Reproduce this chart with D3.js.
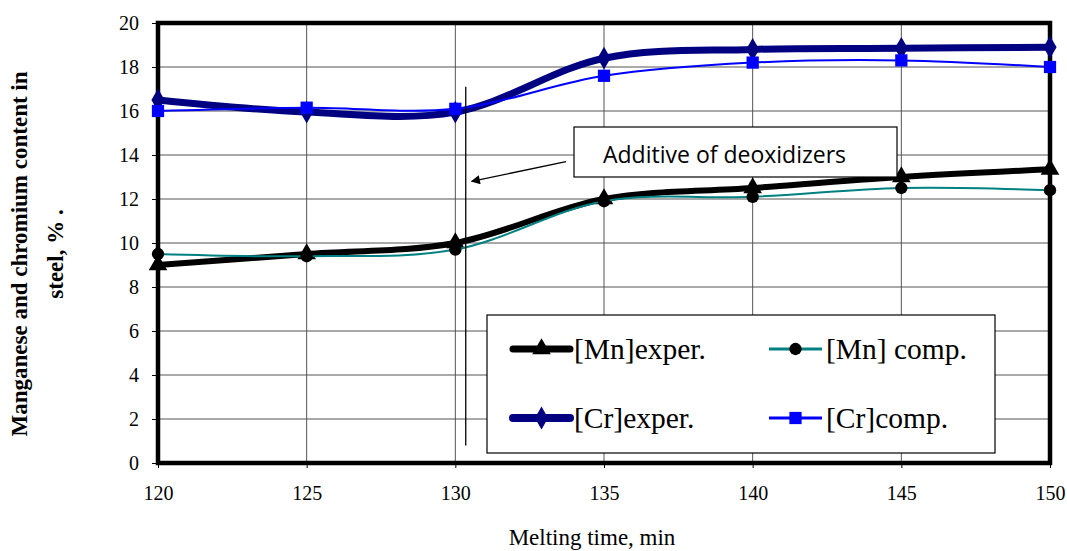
<!DOCTYPE html>
<html>
<head>
<meta charset="utf-8">
<script src="https://cdn.jsdelivr.net/npm/d3@7"></script>
<style>
  body { margin: 0; background: #fff; }
  svg { display: block; }
</style>
</head>
<body>
<div id="chart"></div>
<script>
const times = [120, 125, 130, 135, 140, 145, 150];
const mnExper = [9.0, 9.5, 10.0, 12.0, 12.5, 13.0, 13.35];
const mnComp = [9.5, 9.4, 9.7, 11.9, 12.1, 12.5, 12.4];
const crExper = [16.5, 15.95, 15.95, 18.4, 18.8, 18.85, 18.9];
const crComp = [16.0, 16.15, 16.1, 17.6, 18.2, 18.3, 18.0];
const yTicks = [0, 2, 4, 6, 8, 10, 12, 14, 16, 18, 20];
const legendLabels = ["[Mn]exper.", "[Mn] comp.", "[Cr]exper.", "[Cr]comp."];

const width = 1067, height = 551;
const margin = {top: 23, right: 17, bottom: 88, left: 158};

const x = d3.scaleLinear()
    .domain([120, 150])
    .range([margin.left, width - margin.right]);

const y = d3.scaleLinear()
    .domain([0, 20])
    .range([height - margin.bottom, margin.top]);

const svg = d3.select("#chart").append("svg")
    .attr("width", width)
    .attr("height", height)
    .attr("viewBox", [0, 0, width, height]);

const serif = "'Liberation Serif', 'Times New Roman', serif";

// grid
svg.append("g")
    .attr("stroke", "#555")
    .attr("stroke-width", 1)
  .selectAll("line")
  .data(yTicks.slice(1, -1))
  .join("line")
    .attr("x1", x(120)).attr("x2", x(150))
    .attr("y1", d => y(d)).attr("y2", d => y(d));

svg.append("g")
    .attr("stroke", "#555")
    .attr("stroke-width", 1)
  .selectAll("line")
  .data(times.slice(1, -1))
  .join("line")
    .attr("x1", d => x(d)).attr("x2", d => x(d))
    .attr("y1", y(0)).attr("y2", y(20));

// axes
const xAxis = g => g
    .attr("transform", `translate(0,${y(0)})`)
    .call(d3.axisBottom(x).tickValues(times).tickSize(5).tickPadding(18))
    .call(g => g.select(".domain").remove())
    .call(g => g.selectAll("text").attr("font-family", serif).attr("font-size", 20).attr("fill", "#000"));

const yAxis = g => g
    .attr("transform", `translate(${x(120)},0)`)
    .call(d3.axisLeft(y).tickValues(yTicks).tickSize(6).tickPadding(13))
    .call(g => g.select(".domain").remove())
    .call(g => g.selectAll("text").attr("font-family", serif).attr("font-size", 20).attr("fill", "#000"));

svg.append("g").call(xAxis);
svg.append("g").call(yAxis);

// plot border
svg.append("rect")
    .attr("x", x(120)).attr("y", y(20))
    .attr("width", x(150) - x(120))
    .attr("height", y(0) - y(20))
    .attr("fill", "none")
    .attr("stroke", "#000")
    .attr("stroke-width", 4.5);

// series
const series = [
  {values: mnExper, color: "#000", width: 6, marker: "triangle", mcolor: "#000", msize: 150},
  {values: mnComp, color: "#008080", width: 2, marker: "circle", mcolor: "#000", msize: 120},
  {values: crExper, color: "#000080", width: 7, marker: "diamond", mcolor: "#000080", msize: 150},
  {values: crComp, color: "#0000ff", width: 2, marker: "square", mcolor: "#0000ff", msize: 150}
];

const symbols = {
  triangle: d3.symbolTriangle,
  circle: d3.symbolCircle,
  diamond: d3.symbolDiamond,
  square: d3.symbolSquare
};

const line = d3.line()
    .x((d, i) => x(times[i]))
    .y(d => y(d))
    .curve(d3.curveCatmullRom.alpha(0.5));

series.forEach(s => {
  svg.append("path")
      .datum(s.values)
      .attr("fill", "none")
      .attr("stroke", s.color)
      .attr("stroke-width", s.width)
      .attr("stroke-linejoin", "round")
      .attr("d", line);

  svg.append("g")
    .selectAll("path")
    .data(s.values)
    .join("path")
      .attr("transform", (d, i) => `translate(${x(times[i])},${y(d)})`)
      .attr("d", d3.symbol(symbols[s.marker], s.msize))
      .attr("fill", s.mcolor);
});

// annotation: deoxidizer addition
svg.append("line")
    .attr("x1", x(130.35)).attr("x2", x(130.35))
    .attr("y1", y(17.1)).attr("y2", y(0.8))
    .attr("stroke", "#000")
    .attr("stroke-width", 1.3);

svg.append("defs").append("marker")
    .attr("id", "arrow")
    .attr("viewBox", "0 0 10 10")
    .attr("refX", 9).attr("refY", 5)
    .attr("markerWidth", 9).attr("markerHeight", 7)
    .attr("orient", "auto")
  .append("path")
    .attr("d", "M0,0 L10,5 L0,10 z")
    .attr("fill", "#000");

svg.append("line")
    .attr("x1", 566).attr("y1", y(13.7))
    .attr("x2", x(130.55)).attr("y2", y(12.8))
    .attr("stroke", "#000")
    .attr("stroke-width", 1.3)
    .attr("marker-end", "url(#arrow)");

svg.append("rect")
    .attr("x", 574).attr("y", 127)
    .attr("width", 323).attr("height", 50)
    .attr("fill", "#fff")
    .attr("stroke", "#000")
    .attr("stroke-width", 1.2);

svg.append("text")
    .attr("x", 603).attr("y", 163)
    .attr("font-family", "'Open Sans', 'Noto Sans', sans-serif")
    .attr("font-size", 23)
    .attr("fill", "#000")
    .text("Additive of deoxidizers");

// legend
const legend = svg.append("g");
legend.append("rect")
    .attr("x", 487).attr("y", 315)
    .attr("width", 508).attr("height", 138)
    .attr("fill", "#fff")
    .attr("stroke", "#000")
    .attr("stroke-width", 1.2);

const legendPos = [
  {x: 513, y: 349, len: 57}, {x: 769, y: 349, len: 53},
  {x: 513, y: 418, len: 57}, {x: 769, y: 418, len: 53}
];

series.forEach((s, i) => {
  const p = legendPos[i];
  legend.append("line")
      .attr("x1", p.x).attr("x2", p.x + p.len)
      .attr("y1", p.y).attr("y2", p.y)
      .attr("stroke", s.color)
      .attr("stroke-width", s.width + 1)
      .attr("stroke-linecap", s.width > 3 ? "round" : "butt");
  legend.append("path")
      .attr("transform", `translate(${p.x + p.len / 2},${p.y})`)
      .attr("d", d3.symbol(symbols[s.marker], s.msize))
      .attr("fill", s.mcolor);
  legend.append("text")
      .attr("x", p.x + p.len + 4).attr("y", p.y + 10)
      .attr("font-family", serif)
      .attr("font-size", 29.5)
      .attr("fill", "#000")
      .text(legendLabels[i]);
});

// axis titles
svg.append("text")
    .attr("x", 592).attr("y", 545)
    .attr("text-anchor", "middle")
    .attr("font-family", serif)
    .attr("font-size", 23)
    .text("Melting time, min");

const yTitle = svg.append("text")
    .attr("transform", "translate(0,254) rotate(-90)")
    .attr("text-anchor", "middle")
    .attr("font-family", serif)
    .attr("font-size", 23)
    .attr("font-weight", "bold");
yTitle.append("tspan").attr("x", 0).attr("y", 27).text("Manganese and chromium content in");
yTitle.append("tspan").attr("x", 0).attr("y", 63).text("steel, % .");
</script>
</body>
</html>
